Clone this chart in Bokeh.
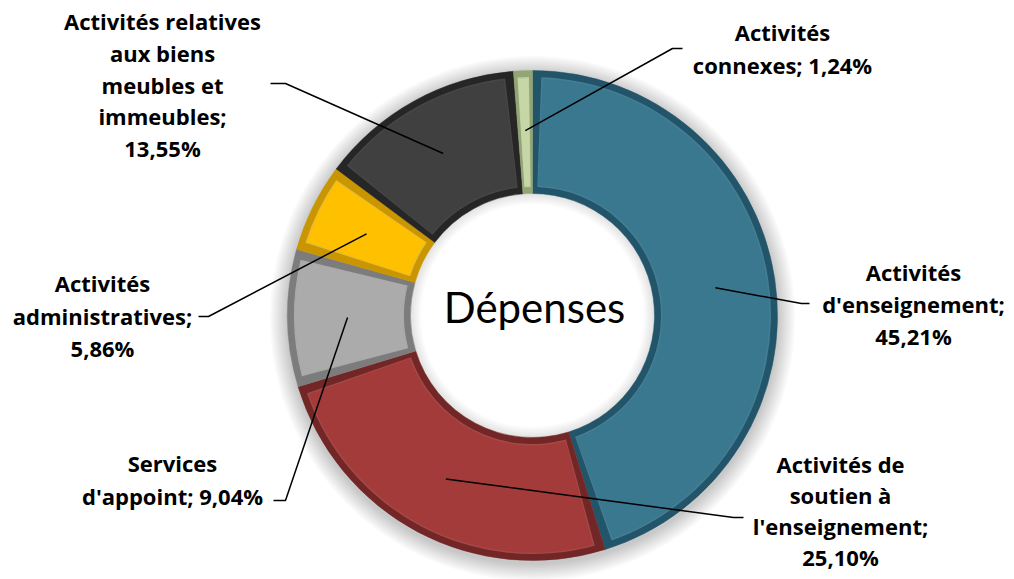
import math
from bokeh.plotting import figure
from bokeh.models import Range1d
from bokeh.core.properties import value
from bokeh.embed import file_html
from bokeh.resources import INLINE

# ---------------- data ----------------
categories = ["Activités d'enseignement",
              "Activités de soutien à l'enseignement",
              "Services d'appoint",
              "Activités administratives",
              "Activités relatives aux biens meubles et immeubles",
              "Activités connexes"]
shares = [45.21, 25.10, 9.04, 5.86, 13.55, 1.24]
label_texts = ["Activités\nd'enseignement;\n45,21%",
               "Activités de\nsoutien à\nl'enseignement;\n25,10%",
               "Services\nd'appoint; 9,04%",
               "Activités\nadministratives;\n5,86%",
               "Activités relatives\naux biens\nmeubles et\nimmeubles;\n13,55%",
               "Activités\nconnexes; 1,24%"]
center_title = "Dépenses"

# ---------------- styles / layout ----------------
base_colors = ["#3A7890", "#A33B3A", "#ABABAB", "#FFC000", "#404040", "#C6D6A6"]
edge_colors = ["#22556A", "#722626", "#7C7C7C", "#C99500", "#262626", "#93A573"]
light_colors = ["#5C9AB1", "#C4605E", "#C8C8C8", "#FFD655", "#5C5C5C", "#DDE8C6"]

TXT_DY = -2
label_x = [913, 840, 172, 102, 162, 782]
label_y = [305, 512, 481, 317, 86, 50]
line_gap = [32, 31, 33, 32.5, 31.8, 33]
leader_end = [(809, 303), (743, 517), (273, 500), (198, 316), (270, 83), (682, 48)]
leader_elbow = [(801, 303), (733, 517), (285, 500), (208, 316), (285, 83), (672, 48)]

W, H = 1014, 579
CX, CY = 532, 315
R_OUT, R_IN = 245, 122
BEVEL = 8

p = figure(width=W, height=H, output_backend="svg", toolbar_location=None,
           x_range=Range1d(0, W), y_range=Range1d(-H, 0),
           x_axis_location=None, y_axis_location=None, min_border=0)
p.grid.visible = False
p.outline_line_color = None
p.background_fill_color = "white"

# soft shadow around the ring
for k in range(1, 12):
    p.annulus(x=[CX], y=[-CY - 3], inner_radius=R_OUT - 5, outer_radius=R_OUT + k * 1.6,
              fill_color="#000000", fill_alpha=0.02, line_color=None)
for k in range(1, 8):
    p.annulus(x=[CX], y=[-CY], inner_radius=R_IN - k * 1.5, outer_radius=R_IN + 4,
              fill_color="#000000", fill_alpha=0.015, line_color=None)

total = sum(shares)
cum = 0.0
mids = []
for i, s in enumerate(shares):
    a0 = math.pi / 2 - 2 * math.pi * cum / total          # clockwise start
    a1 = math.pi / 2 - 2 * math.pi * (cum + s) / total    # clockwise end
    mids.append((a0 + a1) / 2)
    cum += s
    p.annular_wedge(x=[CX], y=[-CY], inner_radius=R_IN, outer_radius=R_OUT,
                    start_angle=a1, end_angle=a0,
                    fill_color=edge_colors[i], line_color=edge_colors[i], line_width=0.5)
    rmid = (R_IN + R_OUT) / 2
    span = a0 - a1
    ins = min(BEVEL / rmid, span * 0.22)
    p.annular_wedge(x=[CX], y=[-CY], inner_radius=R_IN + BEVEL - 1.5, outer_radius=R_OUT - BEVEL + 1.5,
                    start_angle=a1 + ins * 0.85, end_angle=a0 - ins * 0.85,
                    fill_color=light_colors[i], fill_alpha=0.6, line_color=None)
    p.annular_wedge(x=[CX], y=[-CY], inner_radius=R_IN + BEVEL, outer_radius=R_OUT - BEVEL,
                    start_angle=a1 + ins, end_angle=a0 - ins,
                    fill_color=base_colors[i], line_color=None)

# leader lines
xs, ys = [], []
r_pt = 0.755 * R_OUT
for i in range(len(shares)):
    px = CX + r_pt * math.cos(mids[i])
    py = -CY + r_pt * math.sin(mids[i])
    xs.append([leader_end[i][0], leader_elbow[i][0], px])
    ys.append([-leader_end[i][1], -leader_elbow[i][1], py])
p.multi_line(xs=xs, ys=ys, line_color="black", line_width=1.5)

# labels, one text per line
tx, ty, tt = [], [], []
for i, lab in enumerate(label_texts):
    lines = lab.split("\n")
    n = len(lines)
    for j, ln in enumerate(lines):
        tx.append(label_x[i])
        ty.append(-(label_y[i] + TXT_DY + (j - (n - 1) / 2) * line_gap[i]))
        tt.append(ln)
p.text(x=tx, y=ty, text=tt,
       text_font=value("Open Sans"), text_font_style="bold", text_font_size="22px",
       text_align="center", text_baseline="middle", text_color="black")

# center title
p.text(x=[CX + 2], y=[-306], text=[center_title], text_font=value("Lato"),
       text_font_size="42px", text_align="center", text_baseline="middle", text_color="black")

open("out.html", "w").write(file_html(p, INLINE))
